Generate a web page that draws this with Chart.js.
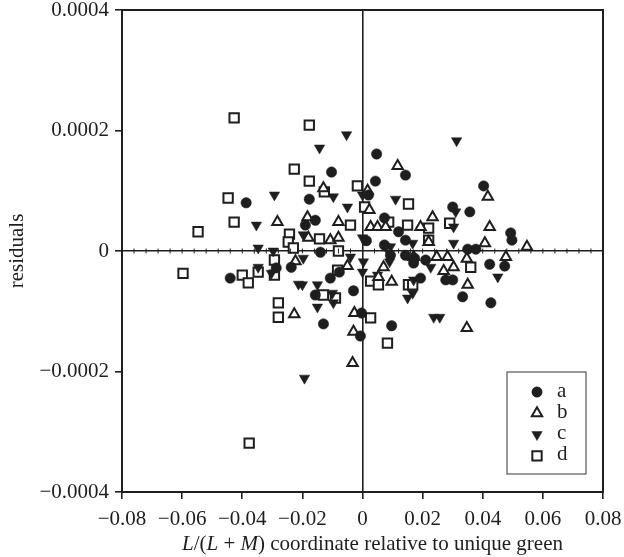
<!DOCTYPE html>
<html>
<head>
<meta charset="utf-8">
<script src="https://cdn.jsdelivr.net/npm/chart.js@4.4.1/dist/chart.umd.min.js"></script>
<style>
  body { margin: 0; background: #fff; }
  canvas { display: block; }
</style>
</head>
<body>
<canvas id="residualChart" width="624" height="557"></canvas>
<script>
// series names shown in the legend box
const seriesNames = ['a', 'b', 'c', 'd'];

// axis ticks
const xTickValues = [-0.08, -0.06, -0.04, -0.02, 0, 0.02, 0.04, 0.06, 0.08];
const xTickLabels = ['\u22120.08', '\u22120.06', '\u22120.04', '\u22120.02', '0', '0.02', '0.04', '0.06', '0.08'];
const yTickValues = [-0.0004, -0.0002, 0, 0.0002, 0.0004];
const yTickLabels = ['\u22120.0004', '\u22120.0002', '0', '0.0002', '0.0004'];

// [x, residual] pairs
const seriesA = [
	[-0.0387, 0.80e-4], [-0.0103, 1.31e-4], [0.0047, 1.61e-4], [0.0143, 1.26e-4],
	[0.0043, 1.16e-4], [0.0020, 0.93e-4], [-0.0177, 0.86e-4], [-0.0157, 0.51e-4],
	[-0.0190, 0.43e-4], [0.0073, 0.55e-4], [0.0120, 0.32e-4], [0.0403, 1.08e-4],
	[0.0300, 0.73e-4], [0.0357, 0.65e-4], [-0.0440, -0.45e-4], [-0.0287, -0.28e-4],
	[-0.0237, -0.27e-4], [-0.0140, -0.02e-4], [0.0013, 0.17e-4], [0.0143, 0.18e-4],
	[0.0073, 0.10e-4], [0.0093, -0.07e-4], [0.0143, -0.07e-4], [0.0173, -0.12e-4],
	[-0.0107, -0.45e-4], [-0.0077, -0.35e-4], [-0.0030, -0.66e-4], [-0.0157, -0.73e-4],
	[-0.0003, -1.03e-4], [-0.0130, -1.21e-4], [0.0097, -1.24e-4], [-0.0007, -1.41e-4],
	[0.0493, 0.30e-4], [0.0497, 0.18e-4], [0.0350, 0.03e-4], [0.0377, 0.03e-4],
	[0.0423, -0.22e-4], [0.0473, -0.25e-4], [0.0170, -0.20e-4], [0.0210, -0.15e-4],
	[0.0277, -0.48e-4], [0.0300, -0.48e-4], [0.0193, -0.45e-4], [0.0333, -0.76e-4],
	[0.0427, -0.86e-4],
];
const seriesB = [
	[-0.0283, 0.48e-4], [0.0117, 1.41e-4], [-0.0130, 1.04e-4], [0.0017, 1.00e-4],
	[0.0023, 0.68e-4], [-0.0183, 0.56e-4], [-0.0080, 0.48e-4], [0.0027, 0.40e-4],
	[0.0050, 0.40e-4], [0.0077, 0.40e-4], [0.0417, 0.90e-4], [0.0233, 0.56e-4],
	[0.0193, 0.40e-4], [0.0423, 0.40e-4], [-0.0223, -0.17e-4], [-0.0227, -1.05e-4],
	[-0.0180, 0.22e-4], [-0.0107, 0.18e-4], [-0.0080, 0.22e-4], [-0.0050, -0.25e-4],
	[0.0070, -0.27e-4], [0.0097, -0.51e-4], [0.0053, -0.43e-4], [-0.0027, -1.03e-4],
	[-0.0030, -1.34e-4], [0.0547, 0.07e-4], [0.0220, 0.15e-4], [0.0407, 0.13e-4],
	[0.0347, -0.13e-4], [0.0477, -0.10e-4], [0.0170, -0.10e-4], [0.0247, -0.10e-4],
	[0.0283, -0.10e-4], [0.0303, -0.27e-4], [0.0270, -0.33e-4], [0.0350, -0.56e-4],
	[0.0347, -1.28e-4], [-0.0033, -1.86e-4],
];
const seriesC = [
	[-0.0293, 0.93e-4], [-0.0353, 0.43e-4], [-0.0053, 1.93e-4], [-0.0143, 1.71e-4],
	[-0.0097, 0.90e-4], [0.0000, 0.93e-4], [-0.0050, 0.73e-4], [0.0110, 0.86e-4],
	[0.0313, 1.83e-4], [0.0310, 0.65e-4], [-0.0347, 0.05e-4], [-0.0297, 0.00e-4],
	[-0.0347, -0.27e-4], [-0.0303, -0.37e-4], [-0.0213, -0.55e-4], [-0.0197, 0.27e-4],
	[-0.0040, -0.10e-4], [-0.0197, -0.12e-4], [0.0000, 0.22e-4], [0.0077, 0.07e-4],
	[0.0093, 0.07e-4], [0.0090, -0.18e-4], [0.0003, -0.18e-4], [0.0000, -0.35e-4],
	[0.0050, -0.40e-4], [0.0150, -0.78e-4], [0.0170, -0.48e-4], [-0.0200, -0.56e-4],
	[-0.0150, -0.56e-4], [-0.0100, -0.70e-4], [-0.0097, -0.86e-4], [-0.0150, -0.93e-4],
	[0.0167, 0.13e-4], [0.0227, -0.27e-4], [0.0450, -0.43e-4], [0.0167, -0.70e-4],
	[0.0237, -1.10e-4], [0.0257, -1.10e-4], [-0.0193, -2.11e-4], [0.0303, 0.40e-4],
	[0.0303, 0.13e-4],
];
const seriesD = [
	[-0.0427, 2.21e-4], [-0.0227, 1.36e-4], [-0.0447, 0.88e-4], [-0.0427, 0.48e-4],
	[-0.0547, 0.32e-4], [-0.0177, 2.09e-4], [-0.0177, 1.16e-4], [-0.0127, 0.98e-4],
	[-0.0017, 1.08e-4], [0.0153, 0.78e-4], [0.0007, 0.73e-4], [-0.0040, 0.43e-4],
	[0.0087, 0.48e-4], [0.0150, 0.43e-4], [0.0290, 0.46e-4], [0.0220, 0.38e-4],
	[-0.0243, 0.28e-4], [-0.0247, 0.15e-4], [-0.0230, 0.05e-4], [-0.0597, -0.37e-4],
	[-0.0400, -0.40e-4], [-0.0380, -0.53e-4], [-0.0347, -0.35e-4], [-0.0293, -0.15e-4],
	[-0.0293, -0.40e-4], [-0.0280, -0.86e-4], [-0.0280, -1.10e-4], [-0.0143, 0.20e-4],
	[-0.0080, 0.00e-4], [-0.0083, -0.32e-4], [0.0027, -0.50e-4], [0.0053, -0.56e-4],
	[0.0153, -0.56e-4], [-0.0130, -0.73e-4], [-0.0090, -0.78e-4], [0.0027, -1.11e-4],
	[0.0083, -1.53e-4], [0.0220, 0.18e-4], [0.0360, -0.27e-4], [0.0167, -0.56e-4],
	[-0.0377, -3.19e-4],
];

const ink = '#1e1e1e';
const serif = "'Liberation Serif', 'Times New Roman', serif";

const toPoints = (rows) => rows.map((r) => ({ x: r[0], y: r[1] }));

const markerStyles = [
	{ pointStyle: 'circle', radius: 5.2, rotation: 0, fill: ink, borderWidth: 0.5 },
	{ pointStyle: 'triangle', radius: 6, rotation: 0, fill: '#fff', borderWidth: 2 },
	{ pointStyle: 'triangle', radius: 6, rotation: 180, fill: ink, borderWidth: 0.5 },
	{ pointStyle: 'rect', radius: 6.6, rotation: 0, fill: '#fff', borderWidth: 2 },
];

const allSeries = [seriesA, seriesB, seriesC, seriesD];

const datasets = allSeries.map((rows, i) => ({
	label: seriesNames[i],
	data: toPoints(rows),
	pointStyle: markerStyles[i].pointStyle,
	pointRadius: markerStyles[i].radius,
	pointRotation: markerStyles[i].rotation,
	backgroundColor: markerStyles[i].fill,
	borderColor: ink,
	borderWidth: markerStyles[i].borderWidth,
}));

// frame box, minor ticks on the zero line, axis titles and legend box
const decorations = {
	id: 'decorations',
	afterDraw(chart) {
		const ctx = chart.ctx;
		const area = chart.chartArea;
		const xs = chart.scales.x;
		const ys = chart.scales.y;
		ctx.save();

		// frame
		ctx.strokeStyle = ink;
		ctx.lineWidth = 2;
		ctx.strokeRect(area.left, area.top, area.right - area.left, area.bottom - area.top);

		// minor ticks along y = 0
		const y0 = ys.getPixelForValue(0);
		ctx.lineWidth = 1;
		for (let i = 0; i <= 40; i++) {
			const px = xs.getPixelForValue(-0.08 + i * 0.004);
			ctx.beginPath();
			ctx.moveTo(px, y0 - 2.5);
			ctx.lineTo(px, y0 + 2.5);
			ctx.stroke();
		}

		// y title
		ctx.fillStyle = ink;
		ctx.font = '21px ' + serif;
		ctx.textAlign = 'center';
		ctx.textBaseline = 'middle';
		ctx.save();
		ctx.translate(17, (area.top + area.bottom) / 2);
		ctx.rotate(-Math.PI / 2);
		ctx.fillText('residuals', 0, 0);
		ctx.restore();

		// x title with italic L and M
		const parts = [
			['L', true], ['/(', false], ['L', true], [' + ', false], ['M', true],
			[') coordinate relative to unique green', false],
		];
		const fontFor = (it) => (it ? 'italic ' : '') + '21px ' + serif;
		let total = 0;
		parts.forEach(([t, it]) => { ctx.font = fontFor(it); total += ctx.measureText(t).width; });
		let tx = (area.left + area.right) / 2 + 10 - total / 2;
		ctx.textAlign = 'left';
		ctx.textBaseline = 'alphabetic';
		parts.forEach(([t, it]) => {
			ctx.font = fontFor(it);
			ctx.fillText(t, tx, 550);
			tx += ctx.measureText(t).width;
		});

		// legend box
		const bx = area.right - 96;
		const by = area.bottom - 120;
		const bw = 79;
		const bh = 102;
		ctx.lineWidth = 1.2;
		ctx.strokeStyle = '#555';
		ctx.fillStyle = '#fff';
		ctx.fillRect(bx, by, bw, bh);
		ctx.strokeRect(bx, by, bw, bh);
		chart.data.datasets.forEach((ds, i) => {
			const ly = by + 20 + i * 21.3;
			const st = markerStyles[i];
			ctx.fillStyle = st.fill;
			ctx.strokeStyle = ink;
			ctx.lineWidth = st.borderWidth;
			Chart.helpers.drawPoint(ctx, {
				pointStyle: st.pointStyle,
				radius: st.radius,
				rotation: st.rotation,
				borderWidth: st.borderWidth,
			}, bx + 30, ly);
			ctx.fillStyle = ink;
			ctx.font = '21px ' + serif;
			ctx.textBaseline = 'middle';
			ctx.fillText(ds.label, bx + 50, ly - 1);
		});
		ctx.restore();
	},
};

const ctx = document.getElementById('residualChart').getContext('2d');

new Chart(ctx, {
	type: 'scatter',
	data: { datasets: datasets },
	options: {
		responsive: false,
		animation: false,
		events: [],
		devicePixelRatio: 1,
		layout: { padding: { top: 10, right: 21, left: 0, bottom: 0 } },
		plugins: {
			legend: { display: false },
			tooltip: { enabled: false },
		},
		scales: {
			x: {
				type: 'linear',
				min: -0.08,
				max: 0.08,
				afterBuildTicks: (scale) => {
					scale.ticks = xTickValues.map((v) => ({ value: v }));
				},
				afterFit: (scale) => {
					scale.height = 65;
					// end labels may overhang the plot; keep the plot edges fixed
					scale.paddingLeft = 0;
					scale.paddingRight = 0;
				},
				ticks: {
					autoSkip: false,
					maxRotation: 0,
					padding: 8,
					color: ink,
					font: { family: serif, size: 21 },
					callback: (value, index) => xTickLabels[index],
				},
				grid: {
					drawOnChartArea: true,
					color: (c) => (c.tick && c.tick.value === 0 ? ink : 'rgba(0,0,0,0)'),
					tickColor: ink,
					tickLength: 7,
					lineWidth: 1.6,
				},
				border: { display: true, color: ink, width: 2 },
			},
			y: {
				type: 'linear',
				min: -0.0004,
				max: 0.0004,
				afterBuildTicks: (scale) => {
					scale.ticks = yTickValues.map((v) => ({ value: v }));
				},
				afterFit: (scale) => {
					scale.width = 122;
					scale.paddingTop = 0;
					scale.paddingBottom = 0;
				},
				ticks: {
					autoSkip: false,
					padding: 6,
					color: ink,
					font: { family: serif, size: 21 },
					callback: (value, index) => yTickLabels[index],
				},
				grid: {
					drawOnChartArea: true,
					color: (c) => (c.tick && c.tick.value === 0 ? ink : 'rgba(0,0,0,0)'),
					tickColor: ink,
					tickLength: 7,
					lineWidth: 1.6,
				},
				border: { display: true, color: ink, width: 2 },
			},
		},
	},
	plugins: [decorations],
});
</script>
</body>
</html>
